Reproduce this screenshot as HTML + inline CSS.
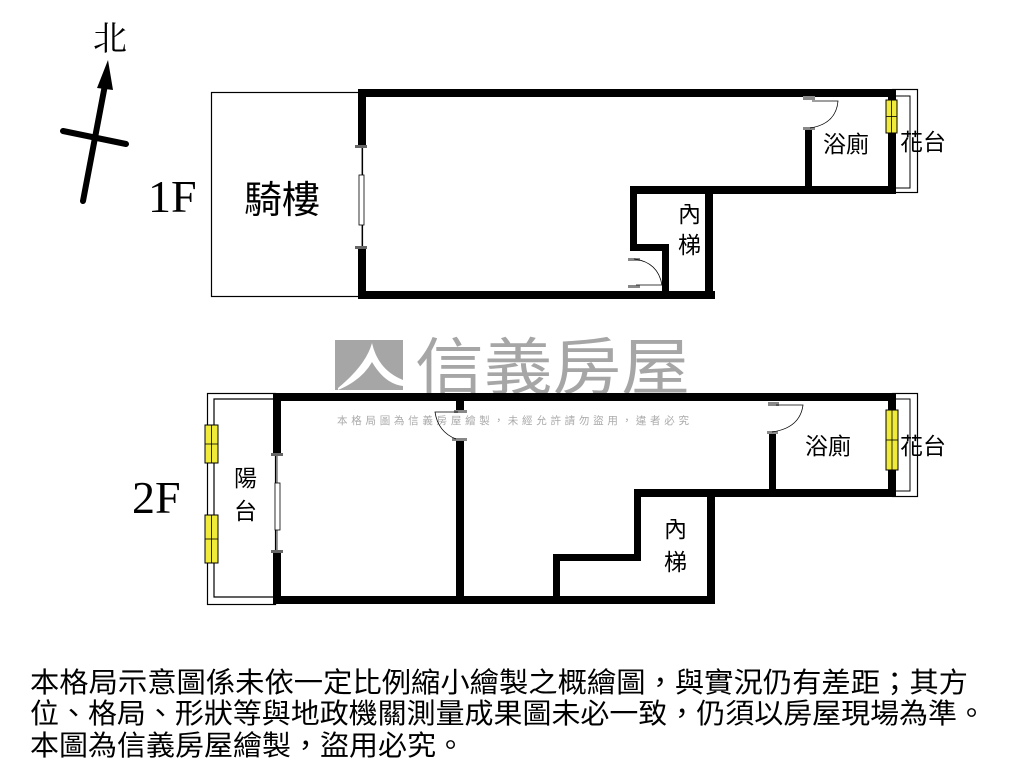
<!DOCTYPE html>
<html><head><meta charset="utf-8"><style>
html,body{margin:0;padding:0;background:#fff;width:1024px;height:768px;overflow:hidden}
svg{display:block}
text{font-family:"Liberation Sans","Noto Sans CJK TC",sans-serif}
</style></head><body>
<svg width="1024" height="768" viewBox="0 0 1024 768" xmlns="http://www.w3.org/2000/svg">
<!-- watermark logo -->
<g fill="#a6a6a6">
<rect x="335" y="340" width="68" height="50"/>
<path d="M338 388 Q366 365 372 343 Q378 370 403 380 L403 386 Q385 384 372 362 Q362 380 338 390Z" fill="#fff"/>
<text x="415" y="389" font-size="62" textLength="275" lengthAdjust="spacingAndGlyphs">信義房屋</text>
</g>
<text x="337" y="424" font-size="10.5" fill="#aaa" textLength="352" lengthAdjust="spacing">本格局圖為信義房屋繪製，未經允許請勿盜用，違者必究</text>

<!-- compass -->
<g stroke="#000" stroke-linecap="round">
<line x1="83" y1="201" x2="105" y2="85" stroke-width="6"/>
<line x1="63" y1="131" x2="126" y2="144" stroke-width="6"/>
</g>
<polygon points="108,60 97,88 113,90" fill="#000"/>
<text x="93" y="50" font-size="34" style="font-family:'Noto Serif CJK SC',serif">北</text>

<!-- ===== 1F ===== -->
<text x="148" y="212" font-size="46" style="font-family:'Liberation Serif',serif">1F</text>
<rect x="211.5" y="92.5" width="151" height="204" fill="none" stroke="#000" stroke-width="1.2"/>
<rect x="892.5" y="89.5" width="25" height="103" fill="none" stroke="#000" stroke-width="1.2"/>
<polyline points="896,96 910,96 910,188 896,188" fill="none" stroke="#000" stroke-width="1"/>
<g fill="#000">
<rect x="358" y="89" width="534" height="8"/>
<rect x="358" y="89" width="8" height="58"/>
<rect x="358" y="247" width="8" height="52"/>
<rect x="358" y="291" width="357" height="8"/>
<rect x="630" y="186" width="266" height="8"/>
<rect x="630" y="186" width="7" height="63"/>
<rect x="630" y="244" width="38" height="7"/>
<rect x="662" y="244" width="7" height="52"/>
<rect x="705" y="186" width="8" height="113"/>
<rect x="805" y="128" width="7" height="62"/>
<rect x="888" y="89" width="8" height="105"/>
</g>
<line x1="362" y1="147" x2="362" y2="247" stroke="#000" stroke-width="0.8"/>
<rect x="359" y="175" width="5" height="50" fill="#fff" stroke="#000" stroke-width="0.8"/>
<rect x="355" y="145" width="12" height="3" fill="#666"/>
<rect x="355" y="246" width="12" height="3" fill="#666"/>
<rect x="886" y="100" width="11" height="33" fill="#f0ea3a" stroke="#000" stroke-width="1"/>
<line x1="891.5" y1="100" x2="891.5" y2="133" stroke="#000" stroke-width="0.8"/>
<line x1="886" y1="116.5" x2="897" y2="116.5" stroke="#000" stroke-width="0.8"/>
<!-- 1F doors -->
<rect x="803" y="96" width="12" height="4" fill="#888"/>
<rect x="803" y="127" width="12" height="3" fill="#888"/>
<path d="M810 128 Q836 124 838 101 L812 101" fill="none" stroke="#000" stroke-width="0.8"/>
<rect x="628" y="258" width="12" height="3" fill="#888"/>
<rect x="628" y="285" width="12" height="3" fill="#888"/>
<path d="M634 259 Q658 262 662 285 L636 285" fill="none" stroke="#000" stroke-width="0.8"/>
<text x="244" y="213" font-size="38">騎樓</text>
<text x="678" y="222" font-size="23">內</text>
<text x="678" y="253" font-size="23">梯</text>
<text x="823" y="152" font-size="23">浴廁</text>
<text x="900" y="150" font-size="23">花台</text>

<!-- ===== 2F ===== -->
<text x="132" y="513" font-size="46" style="font-family:'Liberation Serif',serif">2F</text>
<rect x="207.5" y="393.5" width="68" height="211" fill="none" stroke="#000" stroke-width="1.2"/>
<polyline points="276,399 214,399 214,597 276,597" fill="none" stroke="#000" stroke-width="1.2"/>
<rect x="892.5" y="393.5" width="25" height="103" fill="none" stroke="#000" stroke-width="1.2"/>
<polyline points="896,399 910,399 910,491 896,491" fill="none" stroke="#000" stroke-width="1"/>
<g fill="#000">
<rect x="273" y="393" width="623" height="8"/>
<rect x="273" y="393" width="8" height="62"/>
<rect x="273" y="550" width="8" height="54"/>
<rect x="273" y="596" width="442" height="8"/>
<rect x="456" y="401" width="8" height="10"/>
<rect x="456" y="439" width="8" height="162"/>
<rect x="553" y="554" width="7" height="48"/>
<rect x="553" y="554" width="88" height="7"/>
<rect x="634" y="489" width="7" height="70"/>
<rect x="634" y="489" width="262" height="8"/>
<rect x="707" y="489" width="8" height="115"/>
<rect x="769" y="432" width="7" height="62"/>
<rect x="888" y="393" width="8" height="103"/>
</g>
<line x1="277" y1="455" x2="277" y2="550" stroke="#000" stroke-width="0.8"/>
<rect x="275" y="483" width="5" height="47" fill="#fff" stroke="#000" stroke-width="0.8"/>
<rect x="271" y="453" width="12" height="3" fill="#666"/>
<rect x="271" y="550" width="12" height="3" fill="#666"/>
<rect x="454" y="410" width="13" height="3" fill="#888"/>
<rect x="452" y="438" width="15" height="3" fill="#888"/>
<path d="M456 439 Q438 432 435 412 L458 412" fill="none" stroke="#000" stroke-width="0.8"/>
<rect x="768" y="402" width="11" height="4" fill="#888"/>
<rect x="767" y="431" width="11" height="3" fill="#888"/>
<path d="M772 432 Q800 428 803 405 L776 405" fill="none" stroke="#000" stroke-width="0.8"/>
<g stroke="#000" stroke-width="1" fill="#f0ea3a">
<rect x="205" y="425" width="13" height="38"/>
<rect x="205" y="515" width="13" height="48"/>
<rect x="886" y="410" width="12" height="60"/>
</g>
<g stroke="#000" stroke-width="0.8">
<line x1="211.5" y1="425" x2="211.5" y2="463"/><line x1="205" y1="444" x2="218" y2="444"/>
<line x1="211.5" y1="515" x2="211.5" y2="563"/><line x1="205" y1="539" x2="218" y2="539"/>
<line x1="892" y1="410" x2="892" y2="470"/><line x1="886" y1="440" x2="898" y2="440"/>
</g>
<text x="234" y="486" font-size="23">陽</text>
<text x="234" y="519" font-size="23">台</text>
<text x="664" y="537" font-size="23">內</text>
<text x="664" y="570" font-size="23">梯</text>
<text x="805" y="454" font-size="23">浴廁</text>
<text x="900" y="454" font-size="23">花台</text>

<!-- notes -->
<g font-size="28" fill="#000">
<text x="30" y="692" textLength="938" lengthAdjust="spacingAndGlyphs">本格局示意圖係未依一定比例縮小繪製之概繪圖，與實況仍有差距；其方</text>
<text x="30" y="723" textLength="956" lengthAdjust="spacingAndGlyphs">位、格局、形狀等與地政機關測量成果圖未必一致，仍須以房屋現場為準。</text>
<text x="30" y="755" textLength="435" lengthAdjust="spacingAndGlyphs">本圖為信義房屋繪製，盜用必究。</text>
</g>
</svg>
</body></html>
